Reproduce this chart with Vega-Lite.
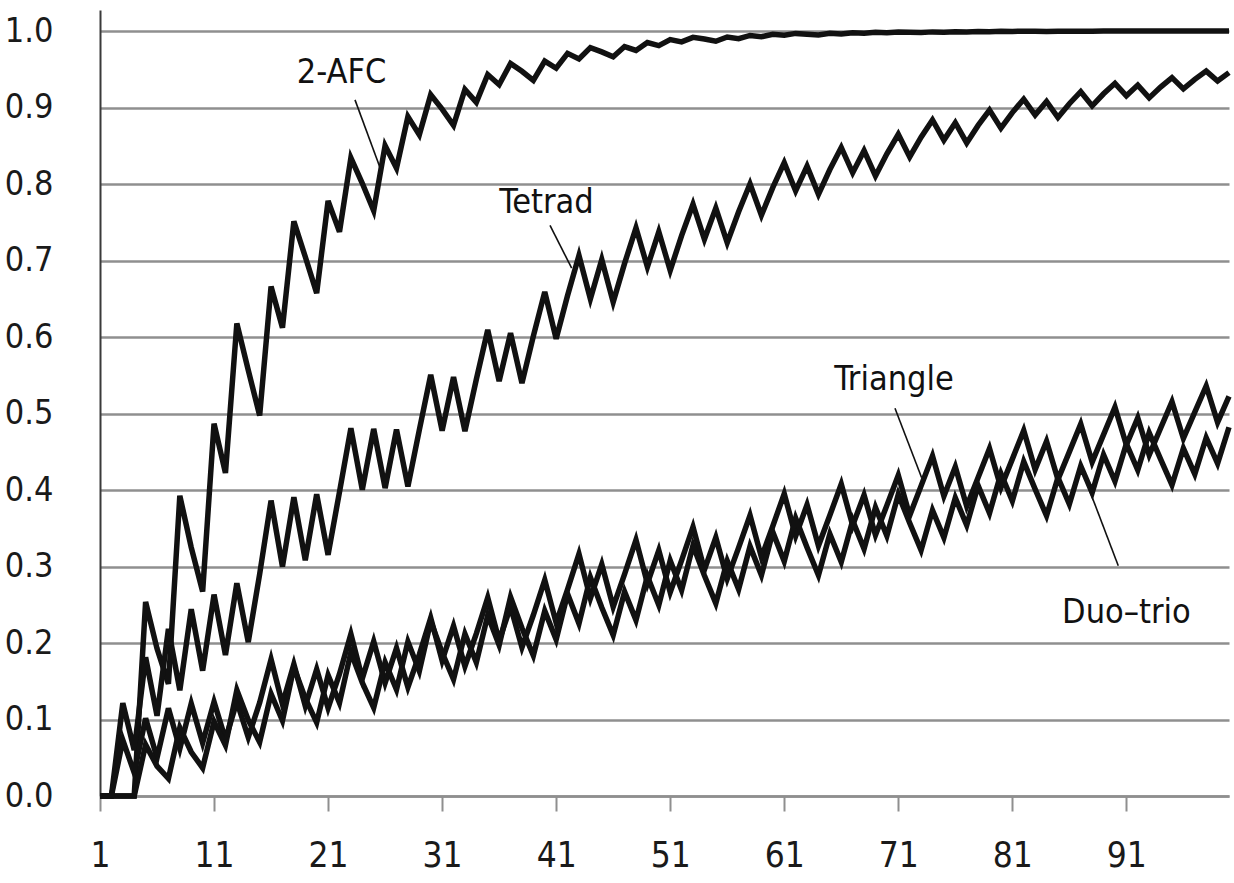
{
"$schema": "https://vega.github.io/schema/vega-lite/v6.json",
"width": 1129, "height": 786,
"autosize": {"type": "none"},
"padding": {"left": 100, "top": 10, "right": 5, "bottom": 87},
"background": "white",
"config": {"view": {"stroke": null}, "font": "DejaVu Sans Condensed, Liberation Sans Narrow, DejaVu Sans, sans-serif"},
"datasets": {
"power": [
{"n":1,"s":"2-AFC","p":0},{"n":2,"s":"2-AFC","p":0},{"n":3,"s":"2-AFC","p":0},{"n":4,"s":"2-AFC","p":0},{"n":5,"s":"2-AFC","p":0.2536},{"n":6,"s":"2-AFC","p":0.1927},{"n":7,"s":"2-AFC","p":0.1465},{"n":8,"s":"2-AFC","p":0.3925},{"n":9,"s":"2-AFC","p":0.3250},{"n":10,"s":"2-AFC","p":0.2673},
{"n":11,"s":"2-AFC","p":0.4867},{"n":12,"s":"2-AFC","p":0.4223},{"n":13,"s":"2-AFC","p":0.6178},{"n":14,"s":"2-AFC","p":0.5568},{"n":15,"s":"2-AFC","p":0.4974},{"n":16,"s":"2-AFC","p":0.6660},{"n":17,"s":"2-AFC","p":0.6121},{"n":18,"s":"2-AFC","p":0.7512},{"n":19,"s":"2-AFC","p":0.7049},{"n":20,"s":"2-AFC","p":0.6573},
{"n":21,"s":"2-AFC","p":0.7780},{"n":22,"s":"2-AFC","p":0.7374},{"n":23,"s":"2-AFC","p":0.8342},{"n":24,"s":"2-AFC","p":0.8010},{"n":25,"s":"2-AFC","p":0.7651},{"n":26,"s":"2-AFC","p":0.8503},{"n":27,"s":"2-AFC","p":0.8208},{"n":28,"s":"2-AFC","p":0.8881},{"n":29,"s":"2-AFC","p":0.8643},{"n":30,"s":"2-AFC","p":0.9168},
{"n":31,"s":"2-AFC","p":0.8979},{"n":32,"s":"2-AFC","p":0.8767},{"n":33,"s":"2-AFC","p":0.9236},{"n":34,"s":"2-AFC","p":0.9067},{"n":35,"s":"2-AFC","p":0.9431},{"n":36,"s":"2-AFC","p":0.9298},{"n":37,"s":"2-AFC","p":0.9577},{"n":38,"s":"2-AFC","p":0.9474},{"n":39,"s":"2-AFC","p":0.9354},{"n":40,"s":"2-AFC","p":0.9607},
{"n":41,"s":"2-AFC","p":0.9514},{"n":42,"s":"2-AFC","p":0.9708},{"n":43,"s":"2-AFC","p":0.9635},{"n":44,"s":"2-AFC","p":0.9783},{"n":45,"s":"2-AFC","p":0.9727},{"n":46,"s":"2-AFC","p":0.9662},{"n":47,"s":"2-AFC","p":0.9797},{"n":48,"s":"2-AFC","p":0.9746},{"n":49,"s":"2-AFC","p":0.9849},{"n":50,"s":"2-AFC","p":0.9810},
{"n":51,"s":"2-AFC","p":0.9888},{"n":52,"s":"2-AFC","p":0.9858},{"n":53,"s":"2-AFC","p":0.9917},{"n":54,"s":"2-AFC","p":0.9895},{"n":55,"s":"2-AFC","p":0.9867},{"n":56,"s":"2-AFC","p":0.9922},{"n":57,"s":"2-AFC","p":0.9901},{"n":58,"s":"2-AFC","p":0.9942},{"n":59,"s":"2-AFC","p":0.9926},{"n":60,"s":"2-AFC","p":0.9957},
{"n":61,"s":"2-AFC","p":0.9945},{"n":62,"s":"2-AFC","p":0.9969},{"n":63,"s":"2-AFC","p":0.9959},{"n":64,"s":"2-AFC","p":0.9948},{"n":65,"s":"2-AFC","p":0.9970},{"n":66,"s":"2-AFC","p":0.9962},{"n":67,"s":"2-AFC","p":0.9978},{"n":68,"s":"2-AFC","p":0.9972},{"n":69,"s":"2-AFC","p":0.9984},{"n":70,"s":"2-AFC","p":0.9979},
{"n":71,"s":"2-AFC","p":0.9988},{"n":72,"s":"2-AFC","p":0.9985},{"n":73,"s":"2-AFC","p":0.9980},{"n":74,"s":"2-AFC","p":0.9989},{"n":75,"s":"2-AFC","p":0.9985},{"n":76,"s":"2-AFC","p":0.9992},{"n":77,"s":"2-AFC","p":0.9989},{"n":78,"s":"2-AFC","p":0.9994},{"n":79,"s":"2-AFC","p":0.9992},{"n":80,"s":"2-AFC","p":0.9996},
{"n":81,"s":"2-AFC","p":0.9995},{"n":82,"s":"2-AFC","p":0.9997},{"n":83,"s":"2-AFC","p":0.9996},{"n":84,"s":"2-AFC","p":0.9995},{"n":85,"s":"2-AFC","p":0.9998},{"n":86,"s":"2-AFC","p":0.9997},{"n":87,"s":"2-AFC","p":0.9998},{"n":88,"s":"2-AFC","p":0.9998},{"n":89,"s":"2-AFC","p":0.9999},{"n":90,"s":"2-AFC","p":0.9999},
{"n":91,"s":"2-AFC","p":0.9999},{"n":92,"s":"2-AFC","p":0.9999},{"n":93,"s":"2-AFC","p":1},{"n":94,"s":"2-AFC","p":1},{"n":95,"s":"2-AFC","p":1},{"n":96,"s":"2-AFC","p":1},{"n":97,"s":"2-AFC","p":1},{"n":98,"s":"2-AFC","p":1},{"n":99,"s":"2-AFC","p":1},{"n":100,"s":"2-AFC","p":1},
{"n":1,"s":"Tetrad","p":0},{"n":2,"s":"Tetrad","p":0},{"n":3,"s":"Tetrad","p":0.1213},{"n":4,"s":"Tetrad","p":0.0600},{"n":5,"s":"Tetrad","p":0.1813},{"n":6,"s":"Tetrad","p":0.1048},{"n":7,"s":"Tetrad","p":0.2184},{"n":8,"s":"Tetrad","p":0.1381},{"n":9,"s":"Tetrad","p":0.2442},{"n":10,"s":"Tetrad","p":0.1638},
{"n":11,"s":"Tetrad","p":0.2633},{"n":12,"s":"Tetrad","p":0.1843},{"n":13,"s":"Tetrad","p":0.2781},{"n":14,"s":"Tetrad","p":0.2011},{"n":15,"s":"Tetrad","p":0.2900},{"n":16,"s":"Tetrad","p":0.3862},{"n":17,"s":"Tetrad","p":0.2998},{"n":18,"s":"Tetrad","p":0.3907},{"n":19,"s":"Tetrad","p":0.3081},{"n":20,"s":"Tetrad","p":0.3944},
{"n":21,"s":"Tetrad","p":0.3152},{"n":22,"s":"Tetrad","p":0.3975},{"n":23,"s":"Tetrad","p":0.4807},{"n":24,"s":"Tetrad","p":0.4002},{"n":25,"s":"Tetrad","p":0.4799},{"n":26,"s":"Tetrad","p":0.4025},{"n":27,"s":"Tetrad","p":0.4791},{"n":28,"s":"Tetrad","p":0.4045},{"n":29,"s":"Tetrad","p":0.4784},{"n":30,"s":"Tetrad","p":0.5505},
{"n":31,"s":"Tetrad","p":0.4776},{"n":32,"s":"Tetrad","p":0.5475},{"n":33,"s":"Tetrad","p":0.4769},{"n":34,"s":"Tetrad","p":0.5447},{"n":35,"s":"Tetrad","p":0.6094},{"n":36,"s":"Tetrad","p":0.5422},{"n":37,"s":"Tetrad","p":0.6052},{"n":38,"s":"Tetrad","p":0.5398},{"n":39,"s":"Tetrad","p":0.6013},{"n":40,"s":"Tetrad","p":0.6591},
{"n":41,"s":"Tetrad","p":0.5977},{"n":42,"s":"Tetrad","p":0.6543},{"n":43,"s":"Tetrad","p":0.7066},{"n":44,"s":"Tetrad","p":0.6498},{"n":45,"s":"Tetrad","p":0.7013},{"n":46,"s":"Tetrad","p":0.6456},{"n":47,"s":"Tetrad","p":0.6963},{"n":48,"s":"Tetrad","p":0.7427},{"n":49,"s":"Tetrad","p":0.6916},{"n":50,"s":"Tetrad","p":0.7375},
{"n":51,"s":"Tetrad","p":0.6871},{"n":52,"s":"Tetrad","p":0.7325},{"n":53,"s":"Tetrad","p":0.7736},{"n":54,"s":"Tetrad","p":0.7278},{"n":55,"s":"Tetrad","p":0.7686},{"n":56,"s":"Tetrad","p":0.7233},{"n":57,"s":"Tetrad","p":0.7638},{"n":58,"s":"Tetrad","p":0.8003},{"n":59,"s":"Tetrad","p":0.7592},{"n":60,"s":"Tetrad","p":0.7956},
{"n":61,"s":"Tetrad","p":0.8280},{"n":62,"s":"Tetrad","p":0.7910},{"n":63,"s":"Tetrad","p":0.8234},{"n":64,"s":"Tetrad","p":0.7866},{"n":65,"s":"Tetrad","p":0.8190},{"n":66,"s":"Tetrad","p":0.8478},{"n":67,"s":"Tetrad","p":0.8147},{"n":68,"s":"Tetrad","p":0.8436},{"n":69,"s":"Tetrad","p":0.8105},{"n":70,"s":"Tetrad","p":0.8395},
{"n":71,"s":"Tetrad","p":0.8650},{"n":72,"s":"Tetrad","p":0.8355},{"n":73,"s":"Tetrad","p":0.8612},{"n":74,"s":"Tetrad","p":0.8837},{"n":75,"s":"Tetrad","p":0.8574},{"n":76,"s":"Tetrad","p":0.8801},{"n":77,"s":"Tetrad","p":0.8537},{"n":78,"s":"Tetrad","p":0.8766},{"n":79,"s":"Tetrad","p":0.8966},{"n":80,"s":"Tetrad","p":0.8731},
{"n":81,"s":"Tetrad","p":0.8934},{"n":82,"s":"Tetrad","p":0.9110},{"n":83,"s":"Tetrad","p":0.8901},{"n":84,"s":"Tetrad","p":0.9080},{"n":85,"s":"Tetrad","p":0.8869},{"n":86,"s":"Tetrad","p":0.9050},{"n":87,"s":"Tetrad","p":0.9207},{"n":88,"s":"Tetrad","p":0.9021},{"n":89,"s":"Tetrad","p":0.9180},{"n":90,"s":"Tetrad","p":0.9317},
{"n":91,"s":"Tetrad","p":0.9153},{"n":92,"s":"Tetrad","p":0.9293},{"n":93,"s":"Tetrad","p":0.9126},{"n":94,"s":"Tetrad","p":0.9268},{"n":95,"s":"Tetrad","p":0.9391},{"n":96,"s":"Tetrad","p":0.9244},{"n":97,"s":"Tetrad","p":0.9369},{"n":98,"s":"Tetrad","p":0.9476},{"n":99,"s":"Tetrad","p":0.9346},{"n":100,"s":"Tetrad","p":0.9456},
{"n":1,"s":"Triangle","p":0},{"n":2,"s":"Triangle","p":0},{"n":3,"s":"Triangle","p":0.0730},{"n":4,"s":"Triangle","p":0.0305},{"n":5,"s":"Triangle","p":0.1016},{"n":6,"s":"Triangle","p":0.0499},{"n":7,"s":"Triangle","p":0.1147},{"n":8,"s":"Triangle","p":0.0619},{"n":9,"s":"Triangle","p":0.1208},{"n":10,"s":"Triangle","p":0.0694},
{"n":11,"s":"Triangle","p":0.1231},{"n":12,"s":"Triangle","p":0.0740},{"n":13,"s":"Triangle","p":0.1233},{"n":14,"s":"Triangle","p":0.0766},{"n":15,"s":"Triangle","p":0.1221},{"n":16,"s":"Triangle","p":0.1788},{"n":17,"s":"Triangle","p":0.1201},{"n":18,"s":"Triangle","p":0.1723},{"n":19,"s":"Triangle","p":0.1177},{"n":20,"s":"Triangle","p":0.1658},
{"n":21,"s":"Triangle","p":0.1149},{"n":22,"s":"Triangle","p":0.1596},{"n":23,"s":"Triangle","p":0.2117},{"n":24,"s":"Triangle","p":0.1536},{"n":25,"s":"Triangle","p":0.2022},{"n":26,"s":"Triangle","p":0.1478},{"n":27,"s":"Triangle","p":0.1933},{"n":28,"s":"Triangle","p":0.1422},{"n":29,"s":"Triangle","p":0.1849},{"n":30,"s":"Triangle","p":0.2329},
{"n":31,"s":"Triangle","p":0.1770},{"n":32,"s":"Triangle","p":0.2223},{"n":33,"s":"Triangle","p":0.1696},{"n":34,"s":"Triangle","p":0.2123},{"n":35,"s":"Triangle","p":0.2593},{"n":36,"s":"Triangle","p":0.2030},{"n":37,"s":"Triangle","p":0.2476},{"n":38,"s":"Triangle","p":0.1943},{"n":39,"s":"Triangle","p":0.2366},{"n":40,"s":"Triangle","p":0.2824},
{"n":41,"s":"Triangle","p":0.2263},{"n":42,"s":"Triangle","p":0.2700},{"n":43,"s":"Triangle","p":0.3164},{"n":44,"s":"Triangle","p":0.2583},{"n":45,"s":"Triangle","p":0.3028},{"n":46,"s":"Triangle","p":0.2473},{"n":47,"s":"Triangle","p":0.2900},{"n":48,"s":"Triangle","p":0.3349},{"n":49,"s":"Triangle","p":0.2779},{"n":50,"s":"Triangle","p":0.3212},
{"n":51,"s":"Triangle","p":0.2664},{"n":52,"s":"Triangle","p":0.3081},{"n":53,"s":"Triangle","p":0.3517},{"n":54,"s":"Triangle","p":0.2957},{"n":55,"s":"Triangle","p":0.3379},{"n":56,"s":"Triangle","p":0.2839},{"n":57,"s":"Triangle","p":0.3247},{"n":58,"s":"Triangle","p":0.3669},{"n":59,"s":"Triangle","p":0.3121},{"n":60,"s":"Triangle","p":0.3530},
{"n":61,"s":"Triangle","p":0.3951},{"n":62,"s":"Triangle","p":0.3398},{"n":63,"s":"Triangle","p":0.3808},{"n":64,"s":"Triangle","p":0.3271},{"n":65,"s":"Triangle","p":0.3670},{"n":66,"s":"Triangle","p":0.4077},{"n":67,"s":"Triangle","p":0.3537},{"n":68,"s":"Triangle","p":0.3935},{"n":69,"s":"Triangle","p":0.3410},{"n":70,"s":"Triangle","p":0.3799},
{"n":71,"s":"Triangle","p":0.4194},{"n":72,"s":"Triangle","p":0.3667},{"n":73,"s":"Triangle","p":0.4054},{"n":74,"s":"Triangle","p":0.4445},{"n":75,"s":"Triangle","p":0.3919},{"n":76,"s":"Triangle","p":0.4303},{"n":77,"s":"Triangle","p":0.3788},{"n":78,"s":"Triangle","p":0.4164},{"n":79,"s":"Triangle","p":0.4544},{"n":80,"s":"Triangle","p":0.4031},
{"n":81,"s":"Triangle","p":0.4404},{"n":82,"s":"Triangle","p":0.4779},{"n":83,"s":"Triangle","p":0.4268},{"n":84,"s":"Triangle","p":0.4637},{"n":85,"s":"Triangle","p":0.4136},{"n":86,"s":"Triangle","p":0.4499},{"n":87,"s":"Triangle","p":0.4863},{"n":88,"s":"Triangle","p":0.4365},{"n":89,"s":"Triangle","p":0.4724},{"n":90,"s":"Triangle","p":0.5082},
{"n":91,"s":"Triangle","p":0.4589},{"n":92,"s":"Triangle","p":0.4943},{"n":93,"s":"Triangle","p":0.4457},{"n":94,"s":"Triangle","p":0.4807},{"n":95,"s":"Triangle","p":0.5155},{"n":96,"s":"Triangle","p":0.4674},{"n":97,"s":"Triangle","p":0.5018},{"n":98,"s":"Triangle","p":0.5360},{"n":99,"s":"Triangle","p":0.4885},{"n":100,"s":"Triangle","p":0.5224},
{"n":1,"s":"Duo-trio","p":0},{"n":2,"s":"Duo-trio","p":0},{"n":3,"s":"Duo-trio","p":0},{"n":4,"s":"Duo-trio","p":0},{"n":5,"s":"Duo-trio","p":0.0671},{"n":6,"s":"Duo-trio","p":0.0391},{"n":7,"s":"Duo-trio","p":0.0228},{"n":8,"s":"Duo-trio","p":0.0893},{"n":9,"s":"Duo-trio","p":0.0575},{"n":10,"s":"Duo-trio","p":0.0367},
{"n":11,"s":"Duo-trio","p":0.0973},{"n":12,"s":"Duo-trio","p":0.0664},{"n":13,"s":"Duo-trio","p":0.1384},{"n":14,"s":"Duo-trio","p":0.0993},{"n":15,"s":"Duo-trio","p":0.0703},{"n":16,"s":"Duo-trio","p":0.1336},{"n":17,"s":"Duo-trio","p":0.0984},{"n":18,"s":"Duo-trio","p":0.1682},{"n":19,"s":"Duo-trio","p":0.1278},{"n":20,"s":"Duo-trio","p":0.0960},
{"n":21,"s":"Duo-trio","p":0.1579},{"n":22,"s":"Duo-trio","p":0.1217},{"n":23,"s":"Duo-trio","p":0.1879},{"n":24,"s":"Duo-trio","p":0.1482},{"n":25,"s":"Duo-trio","p":0.1155},{"n":26,"s":"Duo-trio","p":0.1750},{"n":27,"s":"Duo-trio","p":0.1391},{"n":28,"s":"Duo-trio","p":0.2018},{"n":29,"s":"Duo-trio","p":0.1632},{"n":30,"s":"Duo-trio","p":0.2284},
{"n":31,"s":"Duo-trio","p":0.1876},{"n":32,"s":"Duo-trio","p":0.1525},{"n":33,"s":"Duo-trio","p":0.2120},{"n":34,"s":"Duo-trio","p":0.1747},{"n":35,"s":"Duo-trio","p":0.2362},{"n":36,"s":"Duo-trio","p":0.1971},{"n":37,"s":"Duo-trio","p":0.2602},{"n":38,"s":"Duo-trio","p":0.2196},{"n":39,"s":"Duo-trio","p":0.1837},{"n":40,"s":"Duo-trio","p":0.2420},
{"n":41,"s":"Duo-trio","p":0.2045},{"n":42,"s":"Duo-trio","p":0.2641},{"n":43,"s":"Duo-trio","p":0.2254},{"n":44,"s":"Duo-trio","p":0.2860},{"n":45,"s":"Duo-trio","p":0.2463},{"n":46,"s":"Duo-trio","p":0.2103},{"n":47,"s":"Duo-trio","p":0.2670},{"n":48,"s":"Duo-trio","p":0.2299},{"n":49,"s":"Duo-trio","p":0.2874},{"n":50,"s":"Duo-trio","p":0.2495},
{"n":51,"s":"Duo-trio","p":0.3077},{"n":52,"s":"Duo-trio","p":0.2690},{"n":53,"s":"Duo-trio","p":0.3276},{"n":54,"s":"Duo-trio","p":0.2883},{"n":55,"s":"Duo-trio","p":0.2519},{"n":56,"s":"Duo-trio","p":0.3074},{"n":57,"s":"Duo-trio","p":0.2703},{"n":58,"s":"Duo-trio","p":0.3263},{"n":59,"s":"Duo-trio","p":0.2886},{"n":60,"s":"Duo-trio","p":0.3449},
{"n":61,"s":"Duo-trio","p":0.3068},{"n":62,"s":"Duo-trio","p":0.3632},{"n":63,"s":"Duo-trio","p":0.3248},{"n":64,"s":"Duo-trio","p":0.2886},{"n":65,"s":"Duo-trio","p":0.3425},{"n":66,"s":"Duo-trio","p":0.3060},{"n":67,"s":"Duo-trio","p":0.3600},{"n":68,"s":"Duo-trio","p":0.3231},{"n":69,"s":"Duo-trio","p":0.3772},{"n":70,"s":"Duo-trio","p":0.3401},
{"n":71,"s":"Duo-trio","p":0.3942},{"n":72,"s":"Duo-trio","p":0.3569},{"n":73,"s":"Duo-trio","p":0.3214},{"n":74,"s":"Duo-trio","p":0.3735},{"n":75,"s":"Duo-trio","p":0.3377},{"n":76,"s":"Duo-trio","p":0.3898},{"n":77,"s":"Duo-trio","p":0.3539},{"n":78,"s":"Duo-trio","p":0.4058},{"n":79,"s":"Duo-trio","p":0.3698},{"n":80,"s":"Duo-trio","p":0.4216},
{"n":81,"s":"Duo-trio","p":0.3856},{"n":82,"s":"Duo-trio","p":0.4371},{"n":83,"s":"Duo-trio","p":0.4011},{"n":84,"s":"Duo-trio","p":0.3663},{"n":85,"s":"Duo-trio","p":0.4164},{"n":86,"s":"Duo-trio","p":0.3815},{"n":87,"s":"Duo-trio","p":0.4314},{"n":88,"s":"Duo-trio","p":0.3966},{"n":89,"s":"Duo-trio","p":0.4462},{"n":90,"s":"Duo-trio","p":0.4114},
{"n":91,"s":"Duo-trio","p":0.4606},{"n":92,"s":"Duo-trio","p":0.4260},{"n":93,"s":"Duo-trio","p":0.4749},{"n":94,"s":"Duo-trio","p":0.4404},{"n":95,"s":"Duo-trio","p":0.4066},{"n":96,"s":"Duo-trio","p":0.4545},{"n":97,"s":"Duo-trio","p":0.4208},{"n":98,"s":"Duo-trio","p":0.4684},{"n":99,"s":"Duo-trio","p":0.4348},{"n":100,"s":"Duo-trio","p":0.4820}
],
"labels": [
{"label":"2-AFC","x":22.19,"y":0.932},
{"label":"Tetrad","x":40.15,"y":0.762},
{"label":"Triangle","x":70.62,"y":0.531},
{"label":"Duo\u2013trio","x":91.01,"y":0.226}
],
"leaders": [
{"x1":23.36,"y1":0.910,"x2":25.64,"y2":0.818},
{"x1":40.46,"y1":0.746,"x2":42.36,"y2":0.690},
{"x1":70.71,"y1":0.507,"x2":73.05,"y2":0.416},
{"x1":90.29,"y1":0.301,"x2":87.66,"y2":0.404}
]
},
"layer": [
{
"data": {"name": "power"},
"mark": {"type": "line", "color": "#111111", "strokeWidth": 5.5, "strokeJoin": "miter", "strokeMiterLimit": 4},
"encoding": {
"x": {"field": "n", "type": "quantitative", "title": null,
"scale": {"domain": [1, 100], "nice": false, "zero": false},
"axis": {"values": [1, 11, 21, 31, 41, 51, 61, 71, 81, 91], "grid": false, "tickSize": 15, "tickColor": "#8f8f8f", "tickWidth": 2, "domainColor": "#8f8f8f", "domainWidth": 2.5, "labelFontSize": 35, "labelColor": "#1a1a1a", "labelPadding": 27, "labelFlush": false, "labelOverlap": false}},
"y": {"field": "p", "type": "quantitative", "title": null,
"scale": {"domain": [0, 1.0275], "nice": false, "zero": true},
"axis": {"values": [0, 0.1, 0.2, 0.3, 0.4, 0.5, 0.6, 0.7, 0.8, 0.9, 1.0], "format": ".1f", "grid": true, "gridColor": "#8f8f8f", "gridWidth": 2.5, "ticks": false, "domainColor": "#3a3a3a", "domainWidth": 2, "labelFontSize": 34, "labelColor": "#1a1a1a", "labelPadding": 47, "labelFlush": false, "labelOverlap": false}},
"detail": {"field": "s", "type": "nominal"}
}
},
{
"data": {"name": "leaders"},
"mark": {"type": "rule", "color": "#111111", "strokeWidth": 1.6},
"encoding": {
"x": {"field": "x1", "type": "quantitative", "title": null},
"y": {"field": "y1", "type": "quantitative", "title": null},
"x2": {"field": "x2"},
"y2": {"field": "y2"}
}
},
{
"data": {"name": "labels"},
"mark": {"type": "text", "fontSize": 34, "color": "#111111", "align": "center", "baseline": "alphabetic"},
"encoding": {
"x": {"field": "x", "type": "quantitative", "title": null},
"y": {"field": "y", "type": "quantitative", "title": null},
"text": {"field": "label", "type": "nominal"}
}
}
]
}
